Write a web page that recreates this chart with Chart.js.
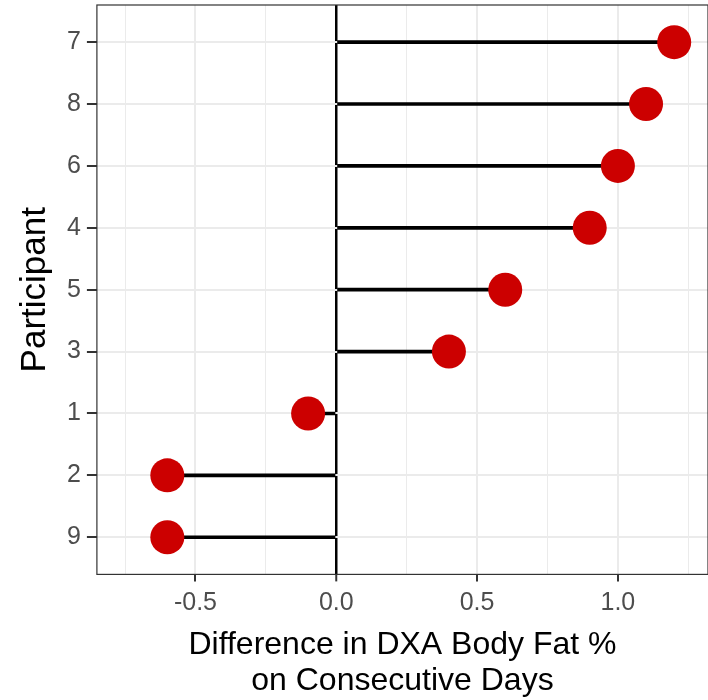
<!DOCTYPE html>
<html>
<head>
<meta charset="utf-8">
<script src="https://cdn.jsdelivr.net/npm/chart.js@4.4.1/dist/chart.umd.min.js"></script>
<style>
  html, body { margin: 0; padding: 0; background: #fff; }
  canvas { display: block; }
</style>
</head>
<body>
<canvas id="chart" width="708" height="700"></canvas>
<script>
// participants, top to bottom
const participants = ["7", "8", "6", "4", "5", "3", "1", "2", "9"];
const differences = [1.2, 1.1, 1.0, 0.9, 0.6, 0.4, -0.1, -0.6, -0.6];

const xTitle = ["Difference in DXA Body Fat %", "on Consecutive Days"];
const yTitle = "Participant";

const isMajor = (v) => Math.abs(v * 2 - Math.round(v * 2)) < 1e-6;

// panel border like theme_bw
const panelBorder = {
    id: "panelBorder",
    afterDraw(chart) {
        const { ctx, chartArea: a } = chart;
        ctx.save();
        ctx.strokeStyle = "#333333";
        ctx.lineWidth = 1.2;
        ctx.strokeRect(a.left, a.top, a.right - a.left, a.bottom - a.top);
        ctx.restore();
    },
};

new Chart(document.getElementById("chart").getContext("2d"), {
    data: {
        datasets: [
            {
                type: "bar",
                indexAxis: "y",
                data: differences.map((v, i) => ({ x: [0, v], y: i })),
                backgroundColor: "#000000",
                barThickness: 3,
                order: 2,
            },
            {
                type: "scatter",
                data: differences.map((v, i) => ({ x: v, y: i })),
                backgroundColor: "#cc0000",
                borderWidth: 0,
                pointRadius: 17,
                order: 1,
            },
        ],
    },
    options: {
        responsive: false,
        animation: false,
        devicePixelRatio: 1,
        layout: { autoPadding: false, padding: { top: 5, right: 0, left: 14, bottom: 0 } },
        plugins: { legend: { display: false }, tooltip: { enabled: false } },
        scales: {
            x: {
                type: "linear",
                min: -0.85,
                max: 1.32,
                offset: false,
                border: { display: false },
                grid: {
                    offset: false,
                    color: (c) => (c.tick.value === 0 ? "#000000" : "#ebebeb"),
                    lineWidth: (c) => (c.tick.value === 0 ? 2.5 : isMajor(c.tick.value) ? 2 : 1),
                    tickColor: (c) => (isMajor(c.tick.value) ? "#333333" : "rgba(0,0,0,0)"),
                    tickWidth: 2,
                    tickLength: 7,
                },
                ticks: {
                    stepSize: 0.25,
                    includeBounds: false,
                    maxRotation: 0,
                    autoSkip: false,
                    padding: 7,
                    color: "#4d4d4d",
                    font: { family: "Liberation Sans", size: 25 },
                    callback: (v) => (isMajor(v) ? v.toFixed(1) : ""),
                },
                title: {
                    display: true,
                    text: xTitle,
                    color: "#000000",
                    font: { family: "Liberation Sans", size: 32, lineHeight: 1.15 },
                    padding: { top: 1, bottom: 0 },
                },
                afterFit: (s) => { s.paddingLeft = 0; s.paddingRight = 0; },
            },
            y: {
                type: "linear",
                reverse: true,
                min: -0.6,
                max: 8.6,
                offset: false,
                border: { display: false },
                grid: {
                    offset: false,
                    color: "#ebebeb",
                    lineWidth: 2,
                    tickColor: "#333333",
                    tickWidth: 2,
                    tickLength: 10,
                },
                ticks: {
                    stepSize: 1,
                    includeBounds: false,
                    autoSkip: false,
                    padding: 6,
                    color: "#4d4d4d",
                    font: { family: "Liberation Sans", size: 25 },
                    callback: (v) => participants[v] ?? "",
                },
                title: {
                    display: true,
                    text: yTitle,
                    color: "#000000",
                    font: { family: "Liberation Sans", size: 35 },
                    padding: { top: 0, bottom: 5 },
                },
                afterFit: (s) => { s.paddingTop = 0; s.paddingBottom = 0; },
            },
        },
    },
    plugins: [panelBorder],
});
</script>
</body>
</html>
